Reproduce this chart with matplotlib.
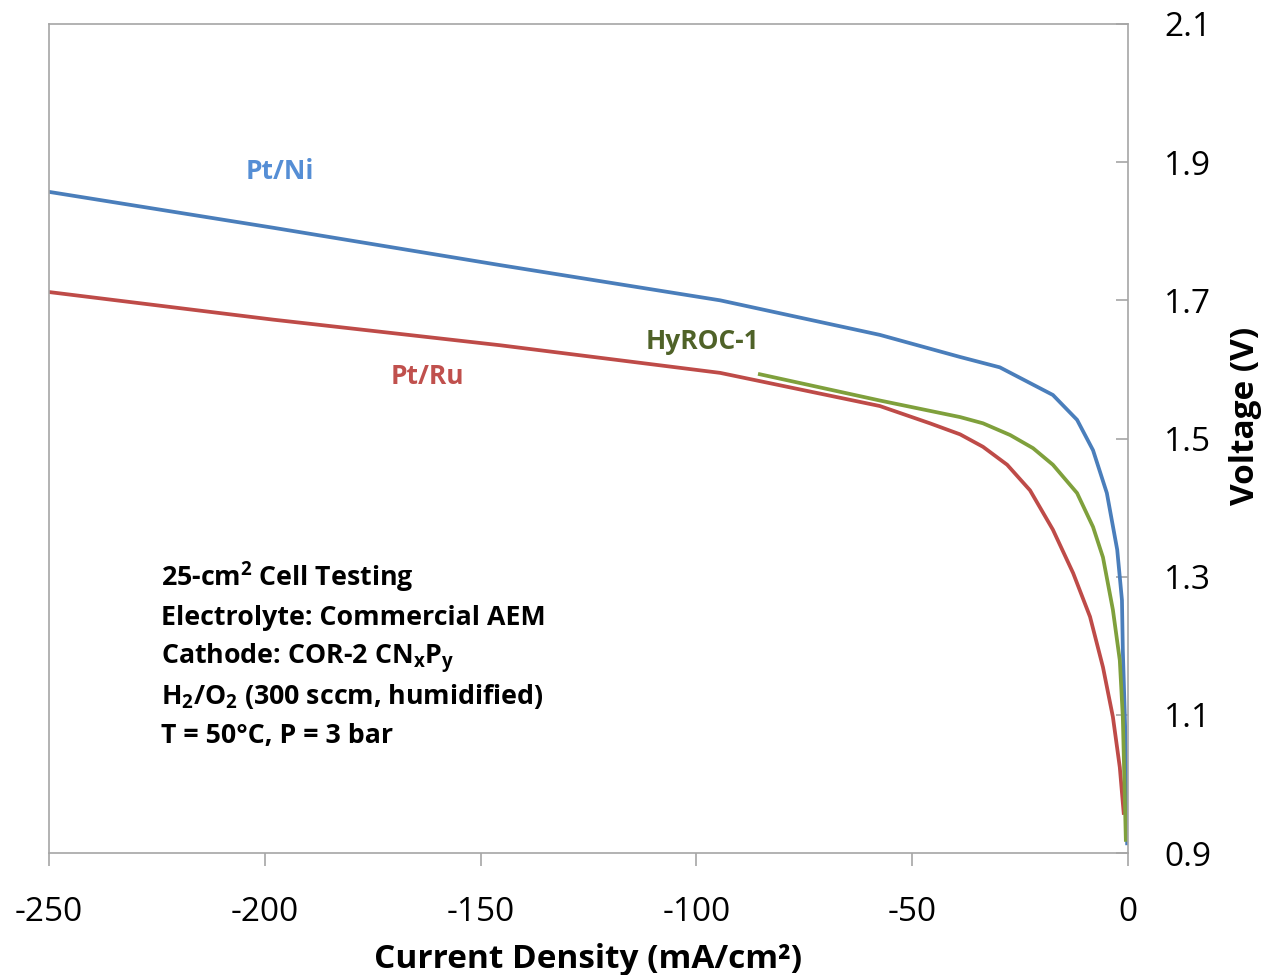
import numpy as np
import matplotlib
matplotlib.use("Agg")
import matplotlib.pyplot as plt

plt.rcParams['font.family'] = ['Open Sans', 'DejaVu Sans']
plt.rcParams['mathtext.fontset'] = 'custom'
plt.rcParams['mathtext.rm'] = 'Open Sans'
plt.rcParams['mathtext.bf'] = 'Open Sans:bold'
plt.rcParams['mathtext.it'] = 'Open Sans:italic'

# data (current density mA/cm2, voltage V)
ptni_j = [-250, -198, -145.5, -94.5, -57.5, -38.9, -29.7, -17.4, -11.8, -8.1, -4.9, -2.5, -1.4, -1.2, -0.5, -0.2]
ptni_v = [1.857, 1.805, 1.751, 1.700, 1.650, 1.618, 1.603, 1.563, 1.527, 1.483, 1.421, 1.339, 1.266, 1.194, 1.049, 0.914]

ptru_j = [-250, -198, -145.5, -94.5, -57.5, -45.9, -38.9, -33.6, -28.0, -22.7, -17.4, -12.7, -8.8, -5.8, -3.5, -1.9, -1.0]
ptru_v = [1.712, 1.672, 1.635, 1.595, 1.547, 1.522, 1.506, 1.488, 1.462, 1.425, 1.368, 1.305, 1.242, 1.169, 1.097, 1.024, 0.958]

hyroc_j = [-85.3, -57.5, -38.9, -33.6, -27.3, -22.0, -17.4, -11.8, -8.1, -5.8, -3.5, -1.9, -1.2, -0.5]
hyroc_v = [1.593, 1.555, 1.531, 1.522, 1.505, 1.486, 1.462, 1.421, 1.372, 1.328, 1.252, 1.179, 1.097, 0.919]

x_ticks = [-250, -200, -150, -100, -50, 0]
y_ticks = [0.9, 1.1, 1.3, 1.5, 1.7, 1.9, 2.1]

notes = [
    r"25-cm$^{\mathbf{2}}$ Cell Testing",
    "Electrolyte: Commercial AEM",
    r"Cathode: COR-2 CN$_{\mathbf{x}}$P$_{\mathbf{y}}$",
    r"H$_{\mathbf{2}}$/O$_{\mathbf{2}}$ (300 sccm, humidified)",
    "T = 50°C, P = 3 bar",
]

blue = '#4A7EBB'
red = '#BE4B48'
green = '#7FA03C'

fig = plt.figure(figsize=(12.66, 9.75), dpi=100)
ax = fig.add_axes([49/1266, 122/975, 1079/1266, 829/975])

ax.plot(ptni_j, ptni_v, color=blue, lw=2.7, solid_joinstyle='round')
ax.plot(ptru_j, ptru_v, color=red, lw=2.7, solid_joinstyle='round')
ax.plot(hyroc_j, hyroc_v, color=green, lw=2.7, solid_joinstyle='round')

ax.set_xlim(-250, 0)
ax.set_ylim(0.9, 2.1)
ax.set_xticks(x_ticks)
ax.set_yticks(y_ticks)
ax.set_xticklabels([str(t) for t in x_ticks])
ax.set_yticklabels(['%.1f' % t for t in y_ticks])

for s in ax.spines.values():
    s.set_color('#A6A6A6')
    s.set_linewidth(1.2)

ax.yaxis.tick_right()
ax.yaxis.set_label_position('right')
ax.tick_params(axis='y', direction='in', length=9, width=1.2, color='#A6A6A6',
               labelsize=24, pad=26, left=False, right=True)
ax.tick_params(axis='x', direction='out', length=9, width=1.2, color='#A6A6A6',
               labelsize=24, pad=22, top=False)

ax.set_xlabel('Current Density (mA/cm²)', fontsize=24, fontweight='bold', labelpad=10)
ax.set_ylabel('Voltage (V)', fontsize=24, fontweight='bold', va='center')
ax.yaxis.set_label_coords((1245 - 49) / 1079, (853 - 416) / 829)

ax.text(-196.5, 1.886, 'Pt/Ni', color='#558ED5', fontsize=19, fontweight='bold', ha='center', va='center')
ax.text(-162.4, 1.590, 'Pt/Ru', color='#C0504D', fontsize=19, fontweight='bold', ha='center', va='center')
ax.text(-98.7, 1.641, 'HyROC-1', color='#4F6228', fontsize=19, fontweight='bold', ha='center', va='center')

for i, line in enumerate(notes):
    yb = 586 + i * 39.25
    ax.text((161 - 49) / 1079, (853 - yb) / 829, line, transform=ax.transAxes,
            fontsize=19.3, fontweight='bold', ha='left', va='baseline', color='black')

fig.savefig('out.png', dpi=100)
